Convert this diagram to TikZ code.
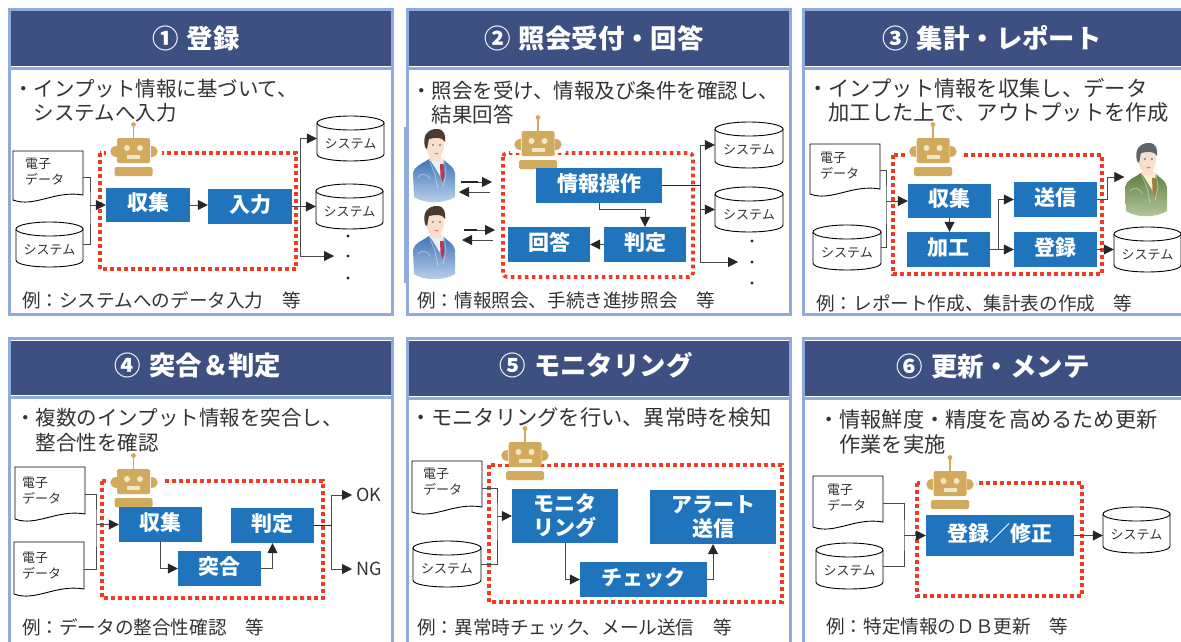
\documentclass[tikz,border=0pt]{standalone}
\usepackage{fontspec}
\setmainfont{Noto Sans CJK JP}
\usetikzlibrary{arrows.meta,calc}
\definecolor{bord}{HTML}{8FAADC}
\definecolor{head}{HTML}{3E4F82}
\definecolor{bluebox}{HTML}{1F74BC}
\definecolor{redd}{HTML}{F03A22}
\definecolor{gold}{HTML}{D2AA5E}
\definecolor{goldl}{HTML}{F3E6C8}
\definecolor{ink}{HTML}{333333}
\definecolor{wire}{HTML}{4A4A4A}
\definecolor{skin}{HTML}{F8DFCB}
\definecolor{suitbt}{HTML}{3F74B8}
\definecolor{suitbb}{HTML}{BDD3EC}
\definecolor{hairb}{HTML}{4A3B30}
\definecolor{tieb}{HTML}{B83A48}
\definecolor{shirtb}{HTML}{E6F0F6}
\definecolor{suitgt}{HTML}{5F8040}
\definecolor{suitgb}{HTML}{B8C8A0}
\definecolor{hairg}{HTML}{5E6468}
\definecolor{tieg}{HTML}{A87C3C}
\definecolor{shirtg}{HTML}{F6F0CC}
\tikzset{
  panelline/.style={draw=bord,line width=3pt},
  titlenode/.style={text=white,font=\fontsize{26.4}{30}\selectfont\bfseries,inner sep=0pt},
  bodytext/.style={text=ink,anchor=north west,align=left,inner sep=0pt},
  exnode/.style={text=ink,anchor=west,inner sep=0pt,font=\fontsize{18.6}{22}\selectfont},
  redbox/.style={draw=redd,line width=3.6pt,dash pattern=on 3.6pt off 3.4pt},
  procbase/.style={fill=bluebox,text=white,inner sep=0pt,align=center,font=\fontsize{21}{24}\selectfont\bfseries},
  procbox/.style={procbase,text height=18pt,text depth=7pt},
  smalltext/.style={text=ink,inner sep=0pt,font=\fontsize{13}{16}\selectfont,align=left},
  shapeline/.style={draw=black,line width=.9pt,fill=white},
  wireline/.style={draw=wire,line width=.8pt},
  arrowline/.style={draw=wire,line width=.8pt,-{Triangle[length=10pt,width=10pt,color=black!85]}},
  dotnode/.style={circle,fill=black!85,inner sep=0pt,minimum size=3.4pt},
  okng/.style={text=ink,anchor=west,inner sep=4pt,font=\fontsize{18}{20}\selectfont},
}
% panel: x0 y0 x1 y1 headertop headerbottom
\newcommand{\panelbox}[6]{%
  \draw[panelline,fill=white] (#1,#2) rectangle (#3,#4);
  \fill[head] (#1+1.5,#5) rectangle (#3-1.5,#6);
  \draw[panelline] (#1,#6+2) -- (#3,#6+2);
}
% cylinder: name x0 y0 x1 y1
\newcommand{\cylnode}[5]{%
  \pgfmathsetmacro{\cx}{(#2+#4)/2}\pgfmathsetmacro{\cy}{(#3+#5)/2}\pgfmathsetmacro{\rx}{(#4-#2)/2}
  \draw[shapeline] (#2,#3+7) -- (#2,#5-7) .. controls (#2,#5+2.3) and (#4,#5+2.3) .. (#4,#5-7) -- (#4,#3+7);
  \draw[shapeline] (\cx,#3+7) ellipse [x radius=\rx,y radius=7];
  \node[smalltext,minimum width=#4-#2,minimum height=#5-#3,align=center] (#1) at (\cx,\cy) {\raisebox{-6pt}[10pt][3pt]{システム}};
}
% document: name x0 y0 x1 y1 textdx textdy
\newcommand{\docnode}[7]{%
  \pgfmathsetmacro{\cx}{(#2+#4)/2}\pgfmathsetmacro{\cy}{(#3+#5)/2}
  \draw[shapeline] (#2,#3) -- (#4,#3) -- (#4,#5-8) .. controls (#2+.6*#4-.6*#2,#5-13) and (#2+.3*#4-.3*#2,#5+5) .. (#2,#5-3) -- cycle;
  \node[inner sep=0pt,minimum width=#4-#2,minimum height=#5-#3] (#1) at (\cx,\cy) {};
  \node[smalltext,anchor=north west] (#1-t) at (#2+#6,#3+#7+2) {\fontsize{13}{16}\selectfont 電子\\データ};
}
% robot: cx top
\newcommand{\robotbot}[2]{%
  \begin{scope}[shift={(#1,#2)}]
    \fill[white] (-28,26) rectangle (28,38);
    \fill[gold] (-.9,3) rectangle (.9,17);
    \fill[gold] (0,2.5) circle (2.4);
    \fill[gold,rounded corners=1.5pt] (-16.5,16) rectangle (16.5,41);
    \fill[goldl] (-6.5,26) circle (3) (6.5,26) circle (3);
    \fill[goldl] (-6.5,33) rectangle (6.5,37);
    \fill[gold] (-17,24) .. controls (-26,24) and (-26,35) .. (-17,35) -- cycle;
    \fill[gold] (17,24) .. controls (26,24) and (26,35) .. (17,35) -- cycle;
    \fill[gold,rounded corners=1.5pt] (-19,45) rectangle (19,54);
  \end{scope}
}
% person: name cx top suit-top suit-bottom hair tie shirt
\newcommand{\personfig}[8]{%
  \begin{scope}[shift={(#2,#3)}]
    \shade[top color=#4,bottom color=#5] (-20,68) -- (-21,44) .. controls (-20,37) and (-12,35) .. (-5,30) -- (9,30) .. controls (13,35) and (20,37) .. (21,44) -- (21,68) .. controls (10,75) and (-10,75) .. (-20,68) -- cycle;
    \fill[#8] (-5,29) -- (10,29) -- (8,50) -- cycle;
    \fill[#7] (6,35) -- (9.5,35) -- (10.5,47) -- (8.5,53) -- (6.5,47) -- cycle;
    \draw[white,opacity=.45,line width=.7pt] (-5,30) -- (1,45) -- (4,60) (10,30) -- (12,44) -- (9,58) (-16,48) .. controls (-12,44) and (-8,44) .. (-4,50);
    \fill[skin] (-4,22) rectangle (7,32);
    \fill[skin] (1,16) ellipse [x radius=9,y radius=14];
    \fill[#6] (-9,18) .. controls (-12,6) and (-6,0) .. (3,0) .. controls (10,0) and (12,6) .. (11,13) .. controls (8,7) and (0,9) .. (-5,10) .. controls (-6,13) and (-6,16) .. (-7,20) -- cycle;
    \fill[black!70] (-1,16) circle (.8) (6,16) circle (.8);
    \fill[red!50!skin] (0,24) -- (5,24) -- (3,25.5) -- cycle;
  \end{scope}
  \node[inner sep=0pt,minimum width=43,minimum height=74] (#1) at (#2,#3+37) {};
}
\begin{document}
\begin{tikzpicture}[x=1pt,y=-1pt]
\useasboundingbox (0,0) rectangle (1181,641);
\clip (0,0) rectangle (1181,641);
\fill[white] (0,0) rectangle (1181,641);

% ---------- panels
\panelbox{9}{9.5}{392}{314}{11}{66}
\panelbox{407}{9.5}{790}{314.5}{11}{66}
\panelbox{803.5}{9.5}{1200}{314.5}{11}{66}
\panelbox{9}{338.5}{392}{660}{341}{395}
\panelbox{407}{338.5}{790}{660}{341}{396}
\panelbox{803.5}{338.5}{1200}{660}{341}{396}
\fill[bord] (404,127) rectangle (409,283);

% ---------- titles
\node[titlenode] (t1) at (196,38) {①\hspace{8pt}登録};
\node[titlenode] (t2) at (594,38) {②\hspace{8pt}照会受付・回答};
\node[titlenode] (t3) at (992,38) {③\hspace{8pt}集計・レポート};
\node[titlenode] (t4) at (198,366) {④\hspace{8pt}突合＆判定};
\node[titlenode] (t5) at (596,365) {⑤\hspace{8pt}モニタリング};
\node[titlenode] (t6) at (993,366) {⑥\hspace{8pt}更新・メンテ};

% ---------- body texts
\node[bodytext,font=\fontsize{20.5}{24}\selectfont] (s1) at (13,79.5) {・インプット情報に基づいて、\\\hspace{20.5pt}システムへ入力};
\node[bodytext,font=\fontsize{20.5}{23.5}\selectfont] (s2) at (411,81) {・照会を受け、情報及び条件を確認し、\\\hspace{20.5pt}結果回答};
\node[bodytext,font=\fontsize{21.3}{24.5}\selectfont] (s3) at (807,78) {・インプット情報を収集し、データ\\\hspace{21.3pt}加工した上で、アウトプットを作成};
\node[bodytext,font=\fontsize{20.5}{25}\selectfont] (s4) at (15,408) {・複数のインプット情報を突合し、\\\hspace{20.5pt}整合性を確認};
\node[bodytext,font=\fontsize{21.25}{25}\selectfont] (s5) at (410,407) {・モニタリングを行い、異常時を検知};
\node[bodytext,font=\fontsize{21.2}{25}\selectfont] (s6) at (818,409.5) {・情報鮮度・精度を高めるため更新\\\hspace{21.2pt}作業を実施};

\node[exnode] (e1) at (22,300) {例：システムへのデータ入力　等};
\node[exnode] (e2) at (417,300) {例：情報照会、手続き進捗照会　等};
\node[exnode] (e3) at (816,303) {例：レポート作成、集計表の作成　等};
\node[exnode] (e4) at (22,627) {例：データの整合性確認　等};
\node[exnode] (e5) at (417,627) {例：異常時チェック、メール送信　等};
\node[exnode] (e6) at (826,626) {例：特定情報のＤＢ更新　等};

% ---------- red frames and robots
\draw[redbox] (100,153) rectangle (296,269);
\robotbot{133.5}{122}
\draw[redbox,rounded corners=4pt] (503,153) rectangle (693,277);
\robotbot{538}{115}
\draw[redbox] (893,155) rectangle (1102,274);
\robotbot{933}{122}
\draw[redbox] (102,481) rectangle (323,598);
\robotbot{133.5}{453}
\draw[redbox] (489,465) rectangle (782,602);
\robotbot{525}{426}
\draw[redbox] (917,483) rectangle (1082,596);
\robotbot{950}{455}

% ---------- panel 1
\docnode{d1}{13}{151}{83}{203}{12}{4.5}
\cylnode{c1}{16}{222}{83}{267}
\cylnode{c1a}{317}{116}{384}{161}
\cylnode{c1b}{316}{184}{383}{229}
\node[procbox,minimum width=84,minimum height=34] (b1a) at (148,205) {収集};
\node[procbox,minimum width=84,minimum height=35] (b1b) at (250,206.5) {入力};
\coordinate (j1) at (90,205);
\coordinate (j1r) at (300,206.5);
\coordinate (z1) at (334,256);
\draw[wireline] (d1.east) -| (j1) |- (c1.east);
\draw[arrowline] (j1) -- (b1a.west);
\draw[arrowline] (b1a.east) -- (b1a.east -| b1b.west);
\draw[wireline] (b1b.east) -- (j1r);
\draw[arrowline] (j1r) |- (c1a.west);
\draw[arrowline] (j1r) -- (c1b.west);
\draw[arrowline] (j1r) |- (z1);
\node[dotnode] (p1a) at (348,236) {};
\node[dotnode] (p1b) at (348,256) {};
\node[dotnode] (p1c) at (348,278) {};

% ---------- panel 2
\personfig{m1}{434}{129}{suitbt}{suitbb}{hairb}{tieb}{shirtb}
\personfig{m2}{434}{206}{suitbt}{suitbb}{hairb}{tieb}{shirtb}
\coordinate (q1a) at (461,182); \coordinate (q1b) at (492,182);
\coordinate (q1c) at (490,192); \coordinate (q1d) at (459,192);
\coordinate (q2a) at (464,230); \coordinate (q2b) at (495,230);
\coordinate (q2c) at (493,240); \coordinate (q2d) at (462,240);
\draw[arrowline] (q1a) -- (q1b);
\draw[black!85,line width=1.8pt] (q1a) -- ($(q1a)+(17,0)$);
\draw[arrowline] (q1c) -- (q1d);
\draw[arrowline] (q2a) -- (q2b);
\draw[black!85,line width=1.8pt] (q2a) -- ($(q2a)+(13,0)$);
\draw[arrowline] (q2c) -- (q2d);
\cylnode{c2a}{715}{122}{783}{168}
\cylnode{c2b}{715}{187}{783}{232}
\node[procbox,minimum width=126,minimum height=35] (b2a) at (599,185.5) {情報操作};
\node[procbox,minimum width=82,minimum height=35] (b2b) at (645,244.5) {判定};
\node[procbox,minimum width=82,minimum height=35] (b2c) at (549,244.5) {回答};
\coordinate (j2) at (700,185.5);
\coordinate (k2) at (645,209);
\coordinate (z2) at (738,262);
\draw[wireline] (b2a.south) |- (k2);
\draw[arrowline] (k2) -- (b2b.north);
\draw[arrowline] (b2b.west) -- (b2c.east);
\draw[wireline,black!85] (b2a.east) -- (j2);
\draw[arrowline] (j2) |- (c2a.west);
\draw[arrowline] (j2) |- (c2b.west);
\draw[arrowline] (j2) |- (z2);
\node[dotnode] (p2a) at (752,241) {};
\node[dotnode] (p2b) at (752,262) {};
\node[dotnode] (p2c) at (752,283) {};

% ---------- panel 3
\docnode{d3}{810}{144}{880}{197}{10}{6}
\cylnode{c3}{813}{225}{881}{270}
\cylnode{c3r}{1114}{227}{1181}{272}
\personfig{m3}{1146}{143}{suitgt}{suitgb}{hairg}{tieg}{shirtg}
\node[procbox,minimum width=83,minimum height=34] (b3a) at (949.5,201) {収集};
\node[procbox,minimum width=83,minimum height=35] (b3b) at (948.5,249.5) {加工};
\node[procbox,minimum width=83,minimum height=35] (b3c) at (1055.5,199.5) {送信};
\node[procbox,minimum width=83,minimum height=35] (b3d) at (1055.5,249.5) {登録};
\coordinate (j3) at (886,201);
\coordinate (j3b) at (998,249.5);
\coordinate (k3) at (1107,177);
\draw[wireline] (d3.east) -| (j3) |- (c3.east);
\draw[arrowline] (j3) -- (b3a.west);
\draw[arrowline] (b3a.south) -- (b3a.south |- b3b.north);
\draw[arrowline] (b3b.east) -- (b3d.west);
\draw[arrowline] (j3b) |- (b3c.west);
\draw[wireline] (b3c.east) -| (k3);
\draw[arrowline] (k3) -- (k3 -| m3.west);
\draw[arrowline] (b3d.east) -- (c3r.west);

% ---------- panel 4
\docnode{d4a}{15}{467}{85}{522}{7}{8}
\docnode{d4b}{14}{542}{84}{597}{8}{8}
\node[procbox,minimum width=83,minimum height=35] (b4a) at (160.5,524.5) {収集};
\node[procbox,minimum width=83,minimum height=35] (b4b) at (219.5,568.5) {突合};
\node[procbox,minimum width=83,minimum height=35] (b4c) at (272.5,525.5) {判定};
\node[okng] (ok4) at (352,495) {OK};
\node[okng] (ng4) at (352,569) {NG};
\coordinate (j4) at (96,524.5);
\coordinate (j4r) at (331,525.5);
\draw[wireline] (d4a.east) -| (j4) |- (d4b.east);
\draw[arrowline] (j4) -- (b4a.west);
\draw[arrowline] (b4a.south) |- (b4b.west);
\draw[arrowline] (b4b.east) -| (b4c.south);
\draw[wireline,black!85] (b4c.east) -- (j4r);
\draw[arrowline] (j4r) |- (ok4.west);
\draw[arrowline] (j4r) |- (ng4.west);

% ---------- panel 5
\docnode{d5}{412}{461}{482}{515}{11}{5}
\cylnode{c5}{413}{541}{481}{587}
\node[procbase,minimum width=106,minimum height=54] (b5a) at (565,516) {\raisebox{2pt}{モニタ}\\\raisebox{2pt}{リング}};
\node[procbase,minimum width=126,minimum height=54] (b5b) at (713,517) {\raisebox{2pt}{アラート}\\\raisebox{2pt}{送信}};
\node[procbox,minimum width=127,minimum height=35] (b5c) at (643.5,579.5) {チェック};
\coordinate (j5) at (497,516);
\draw[wireline] (d5.east) -| (j5) |- (c5.east);
\draw[arrowline] (j5) -- (b5a.west);
\draw[arrowline] (b5a.south) |- (b5c.west);
\draw[arrowline] (b5c.east) -| (b5b.south);

% ---------- panel 6
\docnode{d6}{813}{476}{883}{530}{14}{6}
\cylnode{c6}{816}{543}{883}{589}
\cylnode{c6r}{1103}{507}{1170}{553}
\node[procbox,minimum width=148,minimum height=41] (b6) at (1000,535.5) {登録／修正};
\coordinate (j6) at (904,535.5);
\draw[wireline] (d6.east) -| (j6) |- (c6.east);
\draw[arrowline] (j6) -- (b6.west);
\draw[arrowline] (b6.east) -- (b6.east -| c6r.west);
\end{tikzpicture}
\end{document}
